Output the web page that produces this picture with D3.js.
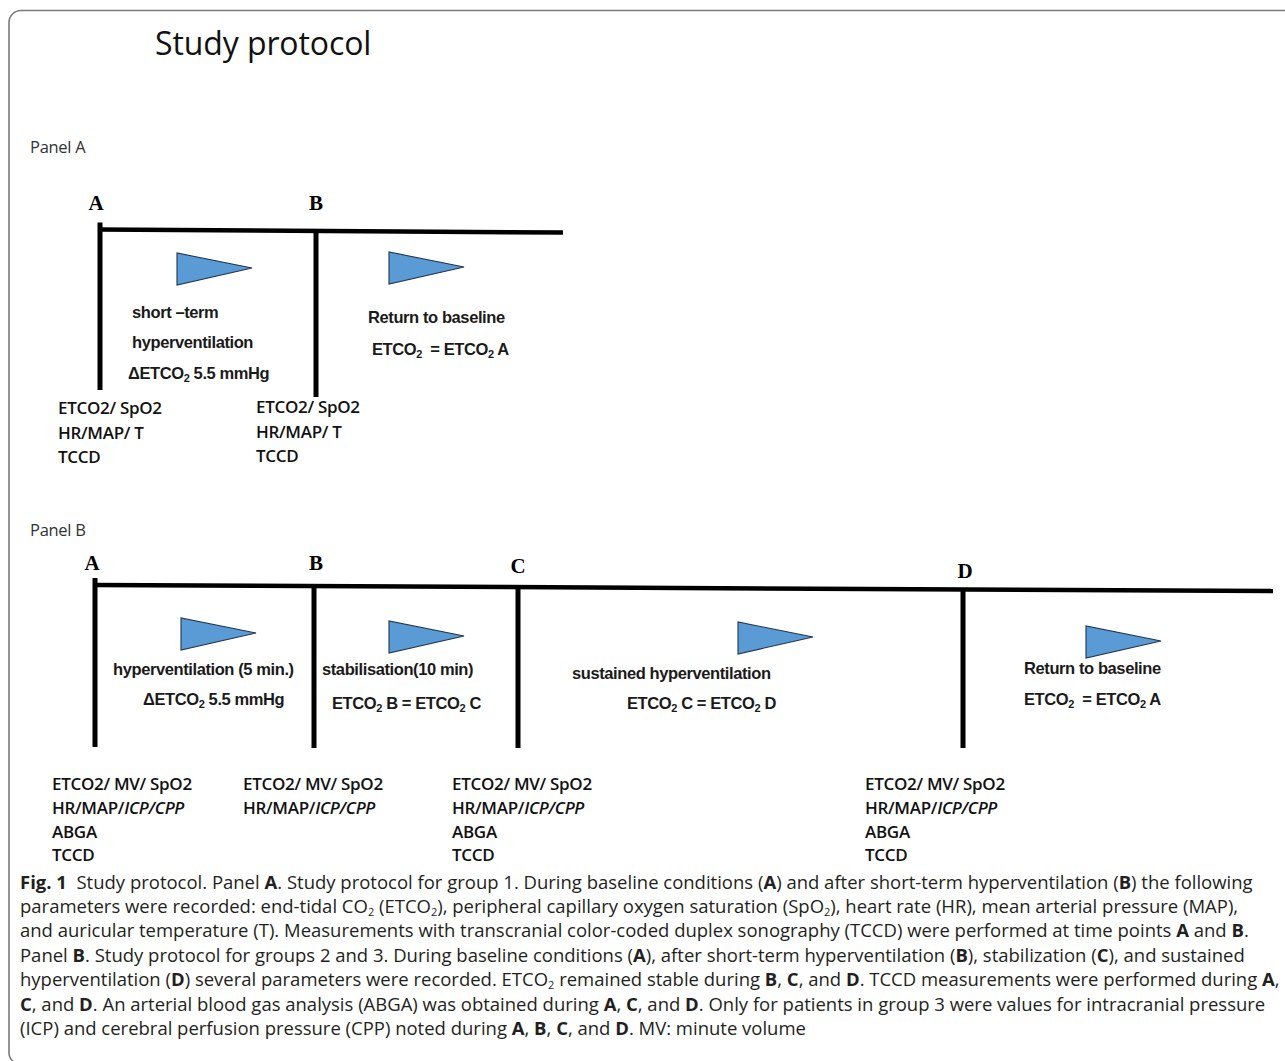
<!DOCTYPE html>
<html>
<head>
<meta charset="utf-8">
<script src="https://cdn.jsdelivr.net/npm/d3@7"></script>
<style>
  html, body { margin: 0; padding: 0; background: #fff; }
  svg { display: block; }
</style>
</head>
<body>
<svg id="chart" width="1285" height="1061"></svg>
<script>
// ---------------- DATA ----------------
const title = "Study protocol";
const panelLabels = ["Panel A", "Panel B"];

// Panel A: time points, phases (between points), recorded parameters
const panelATimepoints = ["A", "B"];
const panelAPhases = [
  ["short –term", "hyperventilation", "ΔETCO_2_ 5.5 mmHg"],
  ["Return to baseline", "ETCO_2_ \u00A0= ETCO_2_ A"]
];
const panelAMeasures = [
  ["ETCO2/ SpO2", "HR/MAP/ T", "TCCD"],
  ["ETCO2/ SpO2", "HR/MAP/ T", "TCCD"]
];

// Panel B
const panelBTimepoints = ["A", "B", "C", "D"];
const panelBPhases = [
  ["hyperventilation (5 min.)", "ΔETCO_2_ 5.5 mmHg"],
  ["stabilisation(10 min)", "ETCO_2_ B = ETCO_2_ C"],
  ["sustained hyperventilation", "ETCO_2_ C = ETCO_2_ D"],
  ["Return to baseline", "ETCO_2_ \u00A0= ETCO_2_ A"]
];
const panelBMeasures = [
  ["ETCO2/ MV/ SpO2", "HR/MAP/^ICP/CPP^", "ABGA", "TCCD"],
  ["ETCO2/ MV/ SpO2", "HR/MAP/^ICP/CPP^"],
  ["ETCO2/ MV/ SpO2", "HR/MAP/^ICP/CPP^", "ABGA", "TCCD"],
  ["ETCO2/ MV/ SpO2", "HR/MAP/^ICP/CPP^", "ABGA", "TCCD"]
];

// Caption (** bold, _ subscript _)
const captionLines = [
  "**Fig. 1**\u00A0 Study protocol. Panel **A**. Study protocol for group 1. During baseline conditions (**A**) and after short-term hyperventilation (**B**) the following",
  "parameters were recorded: end-tidal CO_2_ (ETCO_2_), peripheral capillary oxygen saturation (SpO_2_), heart rate (HR), mean arterial pressure (MAP),",
  "and auricular temperature (T). Measurements with transcranial color-coded duplex sonography (TCCD) were performed at time points **A** and **B**.",
  "Panel **B**. Study protocol for groups 2 and 3. During baseline conditions (**A**), after short-term hyperventilation (**B**), stabilization (**C**), and sustained",
  "hyperventilation (**D**) several parameters were recorded. ETCO_2_ remained stable during **B**, **C**, and **D**. TCCD measurements were performed during **A**,",
  "**C**, and **D**. An arterial blood gas analysis (ABGA) was obtained during **A**, **C**, and **D**. Only for patients in group 3 were values for intracranial pressure",
  "(ICP) and cerebral perfusion pressure (CPP) noted during **A**, **B**, **C**, and **D**. MV: minute volume"
];

// ---------------- LAYOUT ----------------
const svg = d3.select("#chart");
const black = "#000";
const triFill = "#5b9bd5";

// frame
svg.append("rect")
  .attr("x", 9).attr("y", 10.5)
  .attr("width", 1400).attr("height", 1054)
  .attr("rx", 12).attr("ry", 12)
  .attr("fill", "none").attr("stroke", "#7a7a7a").attr("stroke-width", 1.6);

svg.append("text")
  .attr("x", 155).attr("y", 55)
  .attr("font-family", "'Open Sans', sans-serif")
  .attr("font-size", 32)
  .attr("letter-spacing", -0.1)
  .attr("fill", "#111")
  .text(title);

svg.selectAll("text.panel").data(panelLabels).join("text")
  .attr("class", "panel")
  .attr("x", 30).attr("y", (d, i) => [153, 536][i])
  .attr("font-family", "'Open Sans', sans-serif")
  .attr("font-size", 16.5)
  .attr("letter-spacing", -0.3)
  .attr("fill", "#333")
  .text(d => d);

// rich text helper: **bold**, _sub_, ^italic^
function rich(sel, str, subSize) {
  const parts = str.split(/(\*\*[^*]+\*\*|_[^_]+_|\^[^^]+\^)/).filter(s => s.length);
  let pendingDy = 0;
  parts.forEach(p => {
    let t;
    if (p.startsWith("**")) {
      t = sel.append("tspan").attr("font-weight", 700).text(p.slice(2, -2));
    } else if (p.startsWith("_")) {
      t = sel.append("tspan").attr("font-size", subSize).text(p.slice(1, -1));
      t.attr("dy", pendingDy + 3);
      pendingDy = -3;
      return;
    } else if (p.startsWith("^")) {
      t = sel.append("tspan").attr("font-style", "italic").text(p.slice(1, -1));
    } else {
      t = sel.append("tspan").text(p);
    }
    if (pendingDy) { t.attr("dy", pendingDy); pendingDy = 0; }
  });
}

// generic panel drawer
function drawPanel(cfg) {
  const g = svg.append("g");
  const x = d3.scaleOrdinal().domain(cfg.timepoints).range(cfg.xs);
  const lineY = d3.scaleLinear().domain([cfg.xs[0], cfg.lineEnd]).range(cfg.lineYs);

  // main time line
  g.append("line")
    .attr("x1", cfg.xs[0] - 2).attr("x2", cfg.lineEnd)
    .attr("y1", lineY(cfg.xs[0])).attr("y2", lineY(cfg.lineEnd))
    .attr("stroke", black).attr("stroke-width", 4.5);

  // vertical time point lines
  g.selectAll("line.tp").data(cfg.timepoints).join("line")
    .attr("class", "tp")
    .attr("x1", d => x(d)).attr("x2", d => x(d))
    .attr("y1", (d, i) => i === 0 ? lineY(x(d)) - 7 : lineY(x(d)))
    .attr("y2", (d, i) => cfg.vBottom[i])
    .attr("stroke", black).attr("stroke-width", 5);

  // time point letters
  g.selectAll("text.tp").data(cfg.timepoints).join("text")
    .attr("class", "tp")
    .attr("x", (d, i) => x(d) + cfg.letterDx[i])
    .attr("y", (d, i) => cfg.letterY[i])
    .attr("text-anchor", "middle")
    .attr("font-family", "'Liberation Serif', 'Times New Roman', serif")
    .attr("font-weight", 700)
    .attr("font-size", 21)
    .text(d => d);

  // triangles (phase arrows)
  g.selectAll("path.tri").data(cfg.phases).join("path")
    .attr("class", "tri")
    .attr("d", (d, i) => {
      const [tx, ty] = cfg.triPos[i];
      return d3.line()([[tx, ty], [tx, ty + 32], [tx + 75, ty + 15]]) + "Z";
    })
    .attr("fill", triFill).attr("stroke", "#1f3550").attr("stroke-width", 1.1);

  // phase texts
  cfg.phases.forEach((lines, i) => {
    lines.forEach((ln, j) => {
      const t = g.append("text")
        .attr("x", cfg.phaseText[i][j][0]).attr("y", cfg.phaseText[i][j][1])
        .attr("font-family", "'Liberation Sans', Arial, sans-serif")
        .attr("font-weight", 700)
        .attr("font-size", 16.5)
        .attr("letter-spacing", -0.4)
        .attr("fill", "#1a1a1a");
      rich(t, ln, 11);
    });
  });

  // measured parameters
  cfg.measures.forEach((lines, i) => {
    lines.forEach((ln, j) => {
      const t = g.append("text")
        .attr("x", cfg.measureX[i]).attr("y", cfg.measureY[i] + j * cfg.measureDy)
        .attr("font-family", "'Open Sans', sans-serif")
        .attr("font-weight", 600)
        .attr("font-size", 17)
        .attr("letter-spacing", -0.3)
        .attr("fill", "#111");
      rich(t, ln, 11);
    });
  });
}

drawPanel({
  timepoints: panelATimepoints,
  xs: [100, 316],
  lineEnd: 563,
  lineYs: [229.5, 232.5],
  vBottom: [390, 397],
  letterDx: [-4, 0],
  letterY: [210, 210],
  phases: panelAPhases,
  triPos: [[177, 253], [389, 252]],
  phaseText: [
    [[132, 318], [132, 348], [128, 379]],
    [[368, 323], [372, 355]]
  ],
  measures: panelAMeasures,
  measureX: [58, 256],
  measureY: [414, 413],
  measureDy: 24.5
});

drawPanel({
  timepoints: panelBTimepoints,
  xs: [95, 314, 518, 963],
  lineEnd: 1273,
  lineYs: [585, 591],
  vBottom: [747, 748, 748, 748],
  letterDx: [-3, 2, 0, 2],
  letterY: [570, 570, 573, 578],
  phases: panelBPhases,
  triPos: [[181, 618], [389, 621], [738, 622], [1086, 626]],
  phaseText: [
    [[113, 675], [143, 705]],
    [[322, 675], [332, 709]],
    [[572, 679], [627, 709]],
    [[1024, 674], [1024, 705]]
  ],
  measures: panelBMeasures,
  measureX: [52, 243, 452, 865],
  measureY: [790, 790, 790, 790],
  measureDy: 23.8
});

// caption
const cap = svg.append("g")
  .attr("font-family", "'Open Sans', sans-serif")
  .attr("fill", "#231f20");
const capLineY = i => 888.5 + i * 24.4;
const capTexts = cap.selectAll("text").data(captionLines).join("text")
  .attr("x", 20).attr("y", (d, i) => capLineY(i))
  .attr("font-size", 16)
  .each(function (d) { rich(d3.select(this), d, 11); });
// fit font-size so that the first line spans the reference width
const w0 = capTexts.nodes()[0].getComputedTextLength();
const fs = 16 * 1233 / w0;
capTexts.attr("font-size", fs);
</script>
</body>
</html>
